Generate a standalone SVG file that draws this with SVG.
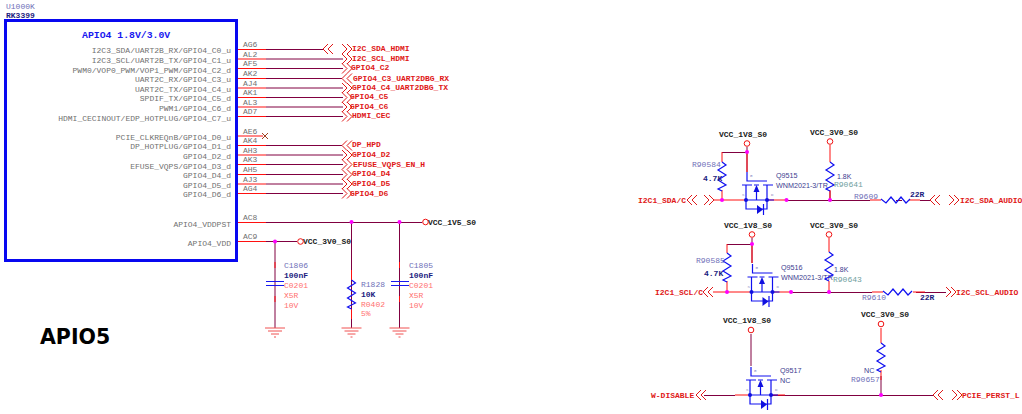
<svg xmlns="http://www.w3.org/2000/svg" xmlns:xlink="http://www.w3.org/1999/xlink" width="1022" height="414" viewBox="0 0 1022 414">
<style>
text{font-family:"Liberation Mono",monospace;font-size:8px}
.pin{fill:#707070}
.func{fill:#707070;text-anchor:end}
.net{fill:#e01818;font-weight:bold}
.ref{fill:#7070b8}
.val{fill:#1c1c80;font-weight:bold}
.fp{fill:#ff7070}
.teal{fill:#70a0a0}
.pow{fill:#202020;font-weight:bold}
.q{font-family:"Liberation Sans",sans-serif;font-size:7.2px;fill:#3c3c90}
.r{fill:none;stroke:#ff1010;stroke-width:1}
.m{fill:none;stroke:#800040;stroke-width:1}
.b{fill:none;stroke:#1010f0;stroke-width:1.200}
.o{fill:#fff;stroke:#f01010;stroke-width:1}
.j{fill:#ff00ff}
.d{fill:#1010e0}
.g{fill:none;stroke:#f05050;stroke-width:1}
.c{fill:none;stroke:#e01818;stroke-width:1}
</style>
<defs>
<path id="rv" class="b" d="M0,0 L4,3 L-4,8 L4,13 L-4,18 L4,23 L-4,27 L0,29"/>
<path id="rh" class="b" d="M0,-1 L5,3 L10,-3 L15,3 L20,-3 L25,3 L29,-1"/>
<path id="cl" class="c" d="M5,-5 L0,0 L5,5 M10,-5 L5,0 L10,5"/>
<path id="cr" class="c" d="M0,-5 L5,0 L0,5 M5,-5 L10,0 L5,5"/>
<g id="gnd"><path class="g" d="M-10,0 H10 M-7,3 H7 M-4,6 H4 M-1,9 H1"/></g>
<g id="fet">
<path class="b" d="M0,-28 V-19 H20"/>
<path class="b" d="M-5,-15 H5 M7,-15 H12 M16,-15 H26"/>
<path class="b" d="M-1,-15 V9 H20 V-15 M-1,0 H27 M9.500,0 V-8"/>
<path class="d" d="M6.500,-8 H12.500 L9.500,-15 Z"/>
<path class="d" d="M10,5 L16,9.500 L10,14 Z"/>
<path class="b" d="M16.500,4 V15"/>
<circle class="d" cx="-1" cy="0" r="2"/>
<circle class="d" cx="20" cy="0" r="2"/>
<text x="3" y="-23" style="font-size:4px;fill:#8484c0">G</text>
<text x="-5" y="-4" style="font-size:4px;fill:#8484c0">S</text>
<text x="24" y="-4" style="font-size:4px;fill:#8484c0">D</text>
</g>
</defs>
<rect width="1022" height="414" fill="#fff"/>

<g id="connectors">
<path class="r" d="M237,49.500H266M237,59H266M237,68.500H266M237,78.500H266M237,88H266M237,97.500H266M237,107H266M237,116.500H266M237,136H263M237,145.500H266M237,155H266M237,164.500H266M237,174.500H266M237,184H266M237,193.500H266M237,222.500H266M237,241.500H266"/>
<path class="m" d="M266,49.500H323M266,59H343M266,68.500H343M266,78.500H342M266,88H343M266,97.500H343M266,107H343M266,116.500H343M266,145.500H342M266,155H343M266,164.500H343M266,174.500H343M266,184H343M266,193.500H343"/>
<path class="m" d="M266,222.500H422M266,241.500H297M275,241.500V328M351.500,222V328M399.500,222V328"/>
<path class="r" d="M275,262V268M275,296V302M351.500,270V280M351.500,309V319M399.500,262V268M399.500,296V302"/>
<path class="m" d="M747,147V172M722,152.500H747"/>
<path class="r" d="M747,152V172M722,152V162M722,190V200M713,200H746M767,200H787"/>
<path class="m" d="M787,200.500H870M830,191V200M896,200.500H902M920,200.500H930"/>
<path class="r" d="M830,145V162M830,190V200M870,200H881M909,200H920"/>
<path class="m" d="M752,238V263M727,244.500H752"/>
<path class="r" d="M752,244V263M727,244V253M727,281V292M713,292H751M772,292H791"/>
<path class="m" d="M791,292.500H872M916,292.500H946"/>
<path class="r" d="M829,238V252M829,281V292M872,292H883M913,292H925"/>
<path class="m" d="M751,334V366M704,395.500H735M771,395.500H933M881,376V395"/>
<path class="r" d="M881,328V343M881,370V380M735,395H750M771,395H785"/>
</g>

<g id="U1000K">
<rect x="5.500" y="20.500" width="231" height="240" fill="none" stroke="#0808f0" stroke-width="3"/>
<text x="6" y="9" class="ref">U1000K</text>
<text x="6" y="18" class="val">RK3399</text>
<text x="82" y="38" style="font-size:9.800px;font-weight:bold;fill:#1818f0">APIO4 1.8V/3.0V</text>
<text x="231" y="53" class="func">I2C3_SDA/UART2B_RX/GPIO4_C0_u</text>
<text x="231" y="63" class="func">I2C3_SCL/UART2B_TX/GPIO4_C1_u</text>
<text x="231" y="73" class="func">PWM0/VOP0_PWM/VOP1_PWM/GPIO4_C2_d</text>
<text x="231" y="82" class="func">UART2C_RX/GPIO4_C3_u</text>
<text x="231" y="92" class="func">UART2C_TX/GPIO4_C4_u</text>
<text x="231" y="101" class="func">SPDIF_TX/GPIO4_C5_d</text>
<text x="231" y="111" class="func">PWM1/GPIO4_C6_d</text>
<text x="231" y="120.500" class="func">HDMI_CECINOUT/EDP_HOTPLUG/GPIO4_C7_u</text>
<text x="231" y="140" class="func">PCIE_CLKREQnB/GPIO4_D0_u</text>
<text x="231" y="149" class="func">DP_HOTPLUG/GPIO4_D1_d</text>
<text x="231" y="159" class="func">GPIO4_D2_d</text>
<text x="231" y="169" class="func">EFUSE_VQPS/GPIO4_D3_d</text>
<text x="231" y="178" class="func">GPIO4_D4_d</text>
<text x="231" y="188" class="func">GPIO4_D5_d</text>
<text x="231" y="197" class="func">GPIO4_D6_d</text>
<text x="231" y="227" class="func">APIO4_VDDPST</text>
<text x="231" y="246" class="func">APIO4_VDD</text>
<text x="243" y="47" class="pin">AG6</text>
<text x="243" y="56.500" class="pin">AL2</text>
<text x="243" y="66" class="pin">AF5</text>
<text x="243" y="76" class="pin">AK2</text>
<text x="243" y="86" class="pin">AJ4</text>
<text x="243" y="95" class="pin">AK1</text>
<text x="243" y="104.500" class="pin">AL3</text>
<text x="243" y="114" class="pin">AD7</text>
<text x="243" y="133.500" class="pin">AE6</text>
<text x="243" y="143" class="pin">AK4</text>
<text x="243" y="152.500" class="pin">AH3</text>
<text x="243" y="162" class="pin">AK3</text>
<text x="243" y="172" class="pin">AH5</text>
<text x="243" y="182" class="pin">AJ3</text>
<text x="243" y="191" class="pin">AG4</text>
<text x="243" y="220" class="pin">AC8</text>
<text x="243" y="239" class="pin">AC9</text>
<path d="M262,133L268,139M268,133L262,139" fill="none" stroke="#a04020" stroke-width="1"/>
</g>

<g id="nets-apio4">
<use href="#cl" x="323" y="49"/><use href="#cr" x="342" y="49"/>
<use href="#cr" x="342" y="59"/><use href="#cr" x="342" y="68.500"/>
<use href="#cl" x="342" y="78.500"/><use href="#cr" x="342" y="88"/>
<use href="#cr" x="342" y="97.500"/><use href="#cr" x="342" y="107"/><use href="#cr" x="342" y="116.500"/>
<use href="#cl" x="342" y="145.500"/><use href="#cr" x="342" y="155"/><use href="#cr" x="342" y="164.500"/>
<use href="#cr" x="342" y="174.500"/><use href="#cr" x="342" y="184"/><use href="#cr" x="342" y="193.500"/>
<text x="352" y="51" class="net">I2C_SDA_HDMI</text>
<text x="352" y="61" class="net">I2C_SCL_HDMI</text>
<text x="351" y="70" class="net">GPIO4_C2</text>
<text x="353" y="81" class="net">GPIO4_C3_UART2DBG_RX</text>
<text x="352" y="90" class="net">GPIO4_C4_UART2DBG_TX</text>
<text x="350" y="99" class="net">GPIO4_C5</text>
<text x="350" y="109" class="net">GPIO4_C6</text>
<text x="352" y="118" class="net">HDMI_CEC</text>
<text x="352" y="147" class="net">DP_HPD</text>
<text x="352" y="157" class="net">GPIO4_D2</text>
<text x="353" y="167" class="net">EFUSE_VQPS_EN_H</text>
<text x="352" y="176" class="net">GPIO4_D4</text>
<text x="352" y="186" class="net">GPIO4_D5</text>
<text x="350" y="195.500" class="net">GPIO4_D6</text>
</g>

<g id="power-apio4">
<circle class="j" cx="275" cy="241.500" r="2"/><circle class="j" cx="351.500" cy="222" r="2"/><circle class="j" cx="399.500" cy="222" r="2"/>
<circle class="o" cx="300.500" cy="241.500" r="2.800"/><circle class="o" cx="425.500" cy="222" r="2.800"/>
<text x="303" y="244" class="pow">VCC_3V0_S0</text>
<text x="428" y="224.500" class="pow">VCC_1V5_S0</text>
</g>

<g id="C1806">
<path d="M266,281.500H284M266,285.500H284" fill="none" stroke="#1818f0" stroke-width="1"/>
<text x="284" y="268" class="ref">C1806</text><text x="284" y="278" class="val">100nF</text><text x="284" y="288" class="fp">C0201</text><text x="284" y="298" class="fp">X5R</text><text x="284" y="308" class="fp">10V</text>
<use href="#gnd" x="275" y="328"/>
</g>
<g id="R1828">
<use href="#rv" x="351.500" y="280"/>
<text x="361" y="287" class="ref">R1828</text><text x="361" y="297" class="val">10K</text><text x="361" y="307" class="fp">R0402</text><text x="361" y="316" class="fp">5%</text>
<use href="#gnd" x="351.500" y="328"/>
</g>
<g id="C1805">
<path d="M391,281.500H409M391,285.500H409" fill="none" stroke="#1818f0" stroke-width="1"/>
<text x="409" y="268" class="ref">C1805</text><text x="409" y="278" class="val">100nF</text><text x="409" y="288" class="fp">C0201</text><text x="409" y="298" class="fp">X5R</text><text x="409" y="308" class="fp">10V</text>
<use href="#gnd" x="399.500" y="328"/>
</g>

<text id="APIO5" x="40" y="344" style="font-family:'DejaVu Sans',sans-serif;font-size:20.500px;font-weight:bold;fill:#000">APIO5</text>

<g id="Q9515">
<use href="#fet" x="747" y="200"/>
<text x="776" y="177.500" class="q">Q9515</text><text x="776" y="187.500" class="q">WNM2021-3/TR</text>
</g>
<g id="R90584">
<use href="#rv" x="722" y="162"/>
<text x="692" y="166.500" class="ref">R90584</text><text x="703" y="180.500" class="val">4.7K</text>
</g>
<g id="R90641">
<use href="#rv" x="830" y="162"/>
<text x="837" y="178.500" style="font-family:'Liberation Sans',sans-serif;font-size:7px;fill:#3c3c90">1.8K</text><text x="834" y="187" class="teal">R90641</text>
</g>
<g id="R9609">
<use href="#rh" x="881" y="200"/>
<text x="854" y="199" class="ref">R9609</text><text x="910" y="196.500" class="val">22R</text>
</g>
<g id="sda-nets">
<circle class="j" cx="722" cy="200" r="2"/><circle class="j" cx="747" cy="152" r="2"/><circle class="j" cx="786.500" cy="200" r="2"/><circle class="j" cx="830" cy="200" r="2"/>
<circle class="o" cx="747" cy="143.500" r="2.800"/><circle class="o" cx="830" cy="141.500" r="2.800"/>
<use href="#cl" x="687" y="200"/><use href="#cr" x="704" y="200"/><use href="#cl" x="930" y="200"/><use href="#cr" x="949" y="200"/>
<text x="719" y="137" class="pow">VCC_1V8_S0</text><text x="810" y="135" class="pow">VCC_3V0_S0</text>
<text x="638" y="202.500" class="net">I2C1_SDA/C</text><text x="960" y="203" class="net">I2C_SDA_AUDIO</text>
</g>

<g id="Q9516">
<use href="#fet" x="752.500" y="292"/>
<text x="781" y="270" class="q">Q9516</text><text x="781" y="279.500" class="q">WNM2021-3/TR</text>
</g>
<g id="R90585">
<use href="#rv" x="727" y="253"/>
<text x="696" y="262.500" class="ref">R90585</text><text x="704" y="275.500" class="val">4.7K</text>
</g>
<g id="R90643">
<use href="#rv" x="829" y="252"/>
<text x="834" y="271.500" style="font-family:'Liberation Sans',sans-serif;font-size:7px;fill:#3c3c90">1.8K</text><text x="833" y="281.500" class="teal">R90643</text>
</g>
<g id="R9610">
<use href="#rh" x="883" y="292"/>
<text x="862" y="299.500" class="ref">R9610</text><text x="920" y="299.500" class="val">22R</text>
</g>
<g id="scl-nets">
<circle class="j" cx="727" cy="292" r="2"/><circle class="j" cx="752" cy="244" r="2"/><circle class="j" cx="791" cy="292" r="2"/><circle class="j" cx="829" cy="292" r="2"/>
<circle class="o" cx="752" cy="234.500" r="2.800"/><circle class="o" cx="829" cy="234.500" r="2.800"/>
<use href="#cl" x="703" y="292"/><use href="#cr" x="946" y="292"/>
<text x="724" y="228" class="pow">VCC_1V8_S0</text><text x="810" y="228" class="pow">VCC_3V0_S0</text>
<text x="655" y="294.500" class="net">I2C1_SCL/C</text><text x="956" y="294.500" class="net">I2C_SCL_AUDIO</text>
</g>

<g id="Q9517">
<use href="#fet" x="751" y="395"/>
<text x="780" y="372.500" class="q">Q9517</text><text x="780" y="382.500" class="q">NC</text>
</g>
<g id="R90657">
<use href="#rv" x="881" y="343"/>
<text x="864" y="373" class="q">NC</text><text x="851" y="381.500" class="ref">R90657</text>
</g>
<g id="pcie-nets">
<circle class="j" cx="881" cy="395" r="2"/>
<circle class="o" cx="751" cy="330" r="2.800"/><circle class="o" cx="881" cy="324" r="2.800"/>
<use href="#cl" x="696" y="395"/><use href="#cl" x="933" y="395"/><use href="#cr" x="952" y="395"/>
<text x="723" y="322.500" class="pow">VCC_1V8_S0</text><text x="861" y="317" class="pow">VCC_3V0_S0</text>
<text x="651" y="397.500" class="net">W-DISABLE</text><text x="962" y="397.500" class="net">PCIE_PERST_L</text>
</g>
</svg>
